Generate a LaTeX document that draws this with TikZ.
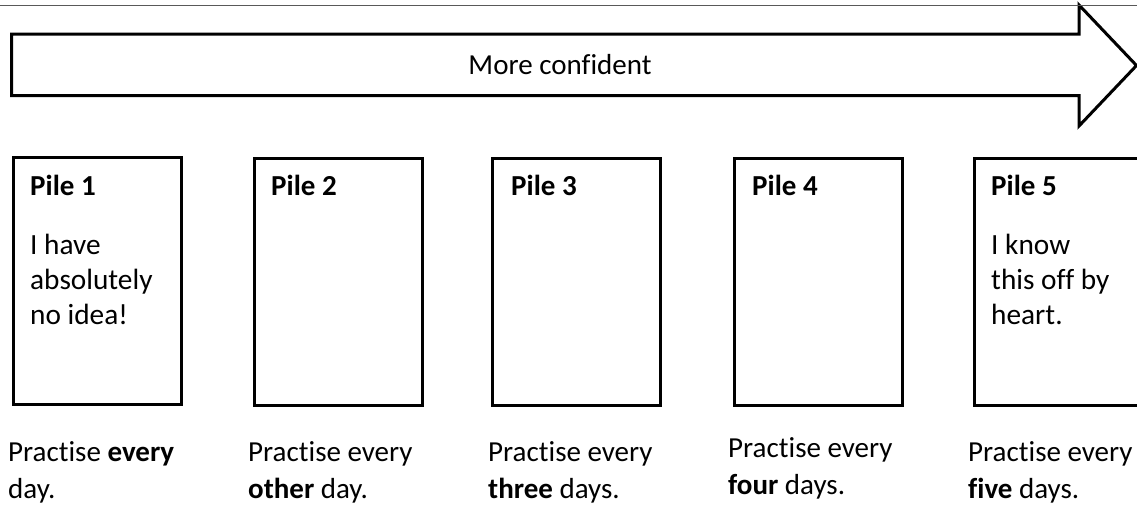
\documentclass[tikz,border=0pt]{standalone}
\usepackage{fontspec}
\setmainfont{Carlito}[Ligatures={NoCommon}]
\begin{document}
\begin{tikzpicture}[x=1pt,y=-1pt,
  pilebox/.style={draw=black,line width=3pt,minimum width=168pt,minimum height=247pt,inner sep=0pt,anchor=north west},
  ttl/.style={inner sep=0pt,anchor=base west,font=\fontsize{29}{35}\selectfont\bfseries},
  body/.style={inner sep=0pt,anchor=base west,font=\fontsize{29.3}{35}\selectfont,align=flush left,text width=160pt},
  below/.style={inner sep=0pt,anchor=base west,font=\fontsize{29}{37}\selectfont,align=flush left,text width=200pt},
  arrowshape/.style={draw=black,line width=3pt,line join=miter,fill=white},
  topline/.style={draw=black!65,line width=1.8pt}]
\useasboundingbox (0,0) rectangle (1137,506);
\clip (0,0) rectangle (1137,506);
\fill[white] (0,0) rectangle (1137,506);

% big arrow
\draw[arrowshape] (11.5,34) -- (1079,34) -- (1079,5) -- (1136.5,65.5)
  -- (1079,126) -- (1079,95.5) -- (11.5,95.5) -- cycle;
\node[inner sep=0pt,anchor=base,font=\fontsize{29}{35}\selectfont] (conf) at (560,74) {More confident};

% thin top line
\coordinate (tl) at (0,5.5);
\coordinate (tr) at (1137,5.5);
\draw[topline] (tl) -- (tr);

% piles
\node[pilebox] (pile1) at (11.5,155.5) {};
\node[pilebox] (pile2) at (252.5,156.5) {};
\node[pilebox] (pile3) at (490.5,156.5) {};
\node[pilebox] (pile4) at (732.5,156.5) {};
\node[pilebox] (pile5) at (972.5,156.5) {};

\node[ttl] (t1) at (30,195) {Pile 1};
\node[ttl] (t2) at (271,195) {Pile 2};
\node[ttl] (t3) at (511,195) {Pile 3};
\node[ttl] (t4) at (752,195) {Pile 4};
\node[ttl] (t5) at (991,195) {Pile 5};

\node[body] (b1) at (30,254) {I have\\absolutely\\no idea!};
\node[body] (b5) at (991,254) {I know\\this off by\\heart.};

% practice texts
\node[below] (p1) at (8,461) {Practise \textbf{every}\\day.};
\node[below] (p2) at (248,461) {Practise every\\\textbf{other} day.};
\node[below] (p3) at (488,461) {Practise every\\\textbf{three} days.};
\node[below] (p4) at (728,457) {Practise every\\\textbf{four} days.};
\node[below] (p5) at (968,461) {Practise every\\\textbf{five} days.};
\end{tikzpicture}
\end{document}
